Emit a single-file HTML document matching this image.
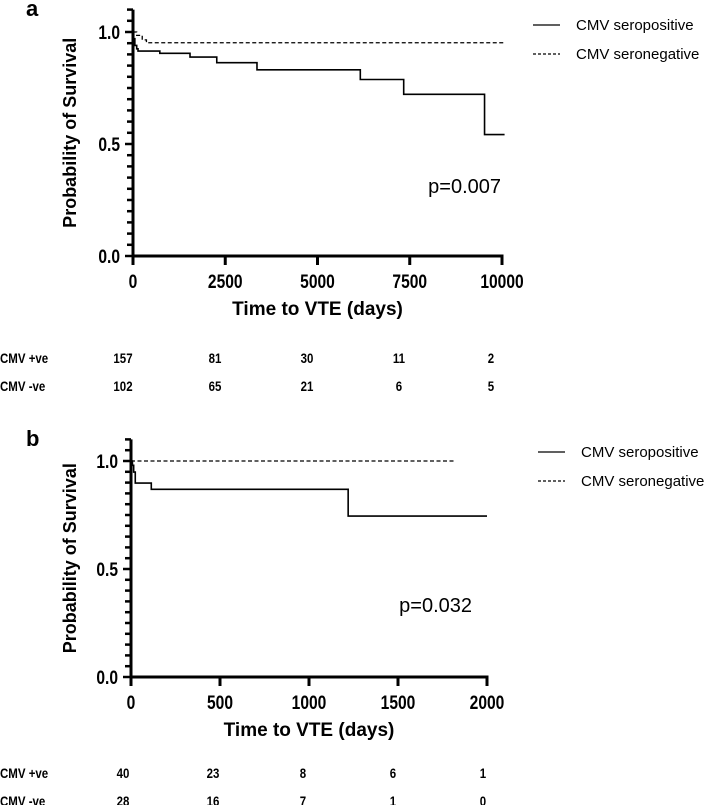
<!DOCTYPE html>
<html><head><meta charset="utf-8"><style>
html,body{margin:0;padding:0;background:#fff;}
svg{display:block;font-family:"Liberation Sans",Arial,sans-serif;}
.tk{font-weight:bold;font-size:19px;}
.rt{font-weight:bold;font-size:14px;}
</style></head><body>
<svg id="fig" width="712" height="805" viewBox="0 0 712 805"></svg>
<script>
// Panel a data
const aPosT=[0,20,50,100,136,727,1545,2270,3360,6160,7336,9527,10070];
const aPosS=[1.0,0.97,0.94,0.925,0.915,0.905,0.888,0.863,0.831,0.788,0.722,0.542,0.542];
const aNegT=[0,100,250,364,10070];
const aNegS=[1.0,0.985,0.965,0.952,0.952];
const aXTicks=[0,2500,5000,7500,10000];
const aYTicks=["0.0","0.5","1.0"];
const aRiskPos=["157","81","30","11","2"];
const aRiskNeg=["102","65","21","6","5"];
// Panel b data
const bPosT=[0,8,15,24,114,1220,2000];
const bPosS=[1.0,0.98,0.949,0.898,0.869,0.745,0.745];
const bNegT=[0,1820];
const bNegS=[1.0,1.0];
const bXTicks=[0,500,1000,1500,2000];
const bYTicks=["0.0","0.5","1.0"];
const bRiskPos=["40","23","8","6","1"];
const bRiskNeg=["28","16","7","1","0"];

const NS="http://www.w3.org/2000/svg";
const svg=document.getElementById('fig');
function mk(tag,attrs,parent){const e=document.createElementNS(NS,tag);for(const k in attrs)e.setAttribute(k,attrs[k]);(parent||svg).appendChild(e);return e;}
function ntext(parent,x,y,anchor,cls,sc,str){
  const wrap=mk('g',{transform:`translate(${x},${y}) scale(${sc},1)`},parent);
  const e=mk('text',{x:0,y:0,'text-anchor':anchor,class:cls},wrap);e.textContent=str;return e;
}

function panel(cfg){
  const g=mk('g',{});
  
  
  const sx=v=>cfg.x0+(v/cfg.xmax)*(cfg.x1-cfg.x0);
  const sy=v=>cfg.y0-(v)*(cfg.y0-cfg.y1);
  const L=mk('text',{x:cfg.letterX,y:cfg.letterY,'font-size':'22','font-weight':'bold'},g);L.textContent=cfg.letter;
  
  
  const ya=mk('line',{x1:cfg.x0,y1:sy(1.1),x2:cfg.x0,y2:sy(0)+1.5,stroke:'#000','stroke-width':3},g);
  
  
  for(let i=0;i<=22;i++){
    const v=i*0.05;const major=(i%10===0);
    mk('line',{x1:cfg.x0-(major?8:6),y1:sy(v),x2:cfg.x0,y2:sy(v),stroke:'#000','stroke-width':2.5},g);
  }
  cfg.yTicks.forEach(t=>{
    const e=ntext(g,cfg.x0-13,sy(parseFloat(t))+7,'end','tk',0.82,t);
    
    
  });
  const yt=mk('text',{transform:`translate(${cfg.ytX},${(sy(0)+sy(1.1))/2}) rotate(-90)`,'text-anchor':'middle','font-size':'18','font-weight':'bold'},g);
  yt.textContent='Probability of Survival';
  
  
  const xa=mk('line',{x1:cfg.x0-1.5,y1:sy(0),x2:sx(cfg.xmax)+1.5,y2:sy(0),stroke:'#000','stroke-width':3},g);
  
  
  cfg.xTicks.forEach(v=>{
    mk('line',{x1:sx(v),y1:sy(0),x2:sx(v),y2:sy(0)+9,stroke:'#000','stroke-width':3},g);
    const e=ntext(g,sx(v),sy(0)+32,'middle','tk',0.82,String(v));
    
    
  });
  const xt=mk('text',{x:(cfg.x0+cfg.x1)/2,y:sy(0)+59,'text-anchor':'middle','font-size':'19','font-weight':'bold'},g);
  xt.textContent='Time to VTE (days)';
  
  
  function step(T,S,dash,nm){
    let d=`M${sx(T[0])},${sy(S[0])}`;
    for(let i=1;i<T.length;i++){d+=` H${sx(T[i])} V${sy(S[i])}`;}
    const p=mk('path',{d:d,fill:'none',stroke:'#000','stroke-width':dash?1.3:1.6,'stroke-dasharray':dash?'4,2.5':'none'},g);
    
    
  }
  step(cfg.negT,cfg.negS,true,'seronegative-curve');
  step(cfg.posT,cfg.posS,false,'seropositive-curve');
  const pv=mk('text',{x:cfg.pX,y:cfg.pY,'text-anchor':'end','font-size':'20'},g);pv.textContent=cfg.p;
  
  
  [['CMV seropositive',false,cfg.legY],['CMV seronegative',true,cfg.legY+29]].forEach(([lab,dash,y])=>{
    const ln=mk('line',{x1:cfg.legX,y1:y,x2:cfg.legX+27,y2:y,stroke:'#000','stroke-width':1.3,'stroke-dasharray':dash?'3,2':'none'},g);
    
    
    const t=mk('text',{x:cfg.legX+43,y:y+5,'font-size':'15'},g);t.textContent=lab;
    
    
  });
  [['CMV +ve',cfg.riskPos,cfg.riskY],['CMV -ve',cfg.riskNeg,cfg.riskY+28]].forEach(([lab,vals,y])=>{
    const t=ntext(g,0,y+5,'start','rt',0.82,lab);
    
    
    vals.forEach((v,i)=>{
      const e=ntext(g,cfg.riskX0+i*cfg.riskDX,y+5,'middle','rt',0.82,v);
      
      
    });
  });
}
panel({name:'panel-a',letter:'a',letterX:26,letterY:16,x0:133,x1:502,xmax:10000,y0:256,y1:32,ytX:76,
  posT:aPosT,posS:aPosS,negT:aNegT,negS:aNegS,xTicks:aXTicks,yTicks:aYTicks,
  p:'p=0.007',pX:501,pY:193,legX:533,legY:25,riskPos:aRiskPos,riskNeg:aRiskNeg,riskY:358,riskX0:123,riskDX:92});
panel({name:'panel-b',letter:'b',letterX:26,letterY:446,x0:131,x1:487,xmax:2000,y0:677,y1:461,ytX:76,
  posT:bPosT,posS:bPosS,negT:bNegT,negS:bNegS,xTicks:bXTicks,yTicks:bYTicks,
  p:'p=0.032',pX:472,pY:612,legX:538,legY:452,riskPos:bRiskPos,riskNeg:bRiskNeg,riskY:773,riskX0:123,riskDX:90});
</script>
</body></html>
